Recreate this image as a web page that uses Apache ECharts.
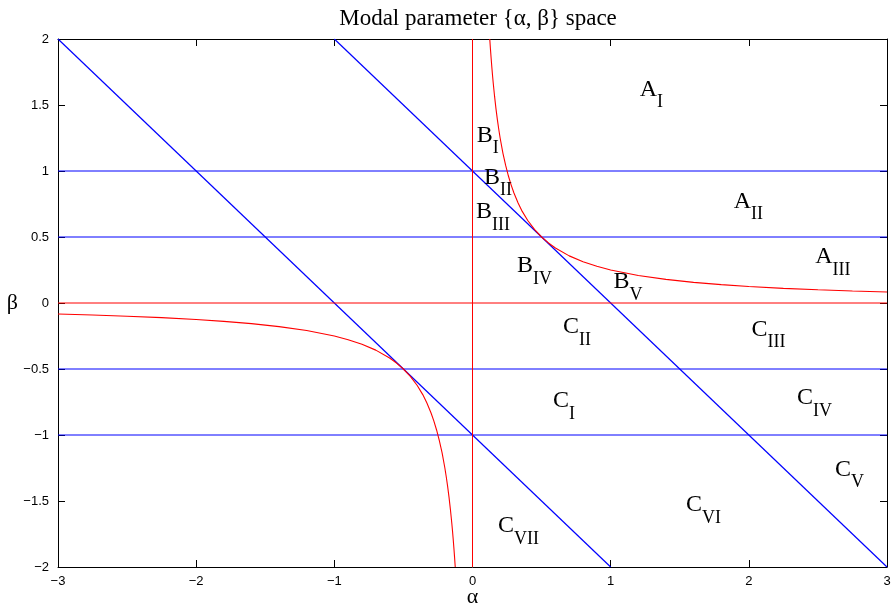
<!DOCTYPE html>
<html>
<head>
<meta charset="utf-8">
<script src="https://cdn.jsdelivr.net/npm/echarts@6/dist/echarts.min.js"></script>
<style>
html, body { margin: 0; padding: 0; background: #fff; }
#chart { width: 893px; height: 608px; }
</style>
</head>
<body>
<div id="chart"></div>
<script>
// Axis ranges and ticks
const xTicks = [-3, -2, -1, 0, 1, 2, 3];
const yTicks = [-2, -1.5, -1, -0.5, 0, 0.5, 1, 1.5, 2];

// Blue boundaries: horizontal beta levels and two diagonals
const horizontalBetas = [1, 0.5, -0.5, -1];
const diagonalUpperAlpha = [-1, 3];
const diagonalUpperBeta = [2, -2];
const diagonalLowerAlpha = [-3, 1];
const diagonalLowerBeta = [2, -2];

// Red boundaries: the alpha = 0 and beta = 0 axes
const redVerticalAlpha = [0, 0];
const redVerticalBeta = [-2, 2];
const redHorizontalAlpha = [-3, 3];
const redHorizontalBeta = [0, 0];

// Red curve, upper-right branch
const curveUpperAlpha = [0.125, 0.13, 0.135, 0.14, 0.145, 0.15, 0.16, 0.17, 0.18, 0.19, 0.2, 0.22, 0.24, 0.26, 0.28, 0.3, 0.33, 0.36, 0.4, 0.45, 0.5, 0.55, 0.6, 0.7, 0.8, 0.9, 1.0, 1.2, 1.4, 1.6, 1.8, 2.0, 2.25, 2.5, 2.75, 3.0];
const curveUpperBeta  = [2.0, 1.923, 1.852, 1.786, 1.724, 1.667, 1.563, 1.471, 1.389, 1.316, 1.25, 1.136, 1.042, 0.962, 0.893, 0.833, 0.758, 0.694, 0.625, 0.556, 0.5, 0.455, 0.417, 0.357, 0.313, 0.278, 0.25, 0.208, 0.179, 0.156, 0.139, 0.125, 0.111, 0.1, 0.091, 0.083];
// Red curve, lower-left branch
const curveLowerAlpha = [-3.0, -2.75, -2.5, -2.25, -2.0, -1.8, -1.6, -1.4, -1.2, -1.0, -0.9, -0.8, -0.7, -0.6, -0.55, -0.5, -0.45, -0.4, -0.36, -0.33, -0.3, -0.28, -0.26, -0.24, -0.22, -0.2, -0.19, -0.18, -0.17, -0.16, -0.15, -0.145, -0.14, -0.135, -0.13, -0.125];
const curveLowerBeta  = [-0.083, -0.091, -0.1, -0.111, -0.125, -0.139, -0.156, -0.179, -0.208, -0.25, -0.278, -0.313, -0.357, -0.417, -0.455, -0.5, -0.556, -0.625, -0.694, -0.758, -0.833, -0.893, -0.962, -1.042, -1.136, -1.25, -1.316, -1.389, -1.471, -1.563, -1.667, -1.724, -1.786, -1.852, -1.923, -2.0];

// Region labels: letter, roman subscript, anchor (top-left) in (alpha, beta)
const regionLetter = ['A', 'A', 'A', 'B', 'B', 'B', 'B', 'B', 'C', 'C', 'C', 'C', 'C', 'C', 'C'];
const regionSub    = ['I', 'II', 'III', 'I', 'II', 'III', 'IV', 'V', 'I', 'II', 'III', 'IV', 'V', 'VI', 'VII'];
const regionAlpha  = [1.21, 1.89, 2.48, 0.03, 0.083, 0.025, 0.322, 1.02, 0.583, 0.655, 2.02, 2.348, 2.624, 1.545, 0.185];
const regionBeta   = [1.71, 0.86, 0.44, 1.36, 1.04, 0.78, 0.37, 0.25, -0.65, -0.09, -0.11, -0.63, -1.17, -1.44, -1.60];

const BLUE = '#0000ff';
const RED = '#ff0000';
const SERIF = '"Liberation Serif", "Times New Roman", serif';
const SANS = '"Liberation Sans", Helvetica, Arial, sans-serif';

function zip(xs, ys) { return xs.map((x, i) => [x, ys[i]]); }
function lineSeries(data, color, width) {
  return {
    type: 'line', data: data, symbol: 'none', silent: true,
    lineStyle: { color: color, width: width || 1 }, animation: false, z: 3
  };
}
const fmt = v => String(v).replace('-', '\u2212');

const series = [];
horizontalBetas.forEach(b => series.push(lineSeries(zip(redHorizontalAlpha, [b, b]), BLUE)));
series.push(lineSeries(zip(diagonalUpperAlpha, diagonalUpperBeta), BLUE, 1.2));
series.push(lineSeries(zip(diagonalLowerAlpha, diagonalLowerBeta), BLUE, 1.2));
series.push(lineSeries(zip(redVerticalAlpha, redVerticalBeta), RED));
series.push(lineSeries(zip(redHorizontalAlpha, redHorizontalBeta), RED));
series.push(lineSeries(zip(curveUpperAlpha, curveUpperBeta), RED, 1.1));
series.push(lineSeries(zip(curveLowerAlpha, curveLowerBeta), RED, 1.1));

series.push({
  type: 'custom',
  silent: true,
  animation: false,
  z: 5,
  data: regionLetter.map((l, i) => [regionAlpha[i], regionBeta[i], i]),
  renderItem: function (params, api) {
    const i = api.value(2);
    const p = api.coord([api.value(0), api.value(1)]);
    return {
      type: 'text',
      x: p[0], y: p[1],
      style: {
        text: '{m|' + regionLetter[i] + '}{s|' + regionSub[i] + '}',
        align: 'left',
        verticalAlign: 'top',
        fill: '#000',
        rich: {
          m: { fontFamily: SERIF, fontSize: 24, lineHeight: 24, verticalAlign: 'top', fill: '#000' },
          s: { fontFamily: SERIF, fontSize: 18, lineHeight: 18, padding: [16, 0, 0, 0], verticalAlign: 'top', fill: '#000' }
        }
      }
    };
  }
});

const axisCommon = {
  type: 'value',
  axisLine: { show: true, onZero: false, lineStyle: { color: '#000', width: 1 } },
  axisTick: { show: true, inside: true, length: 7, lineStyle: { color: '#000', width: 1 } },
  splitLine: { show: false }
};

const chart = echarts.init(document.getElementById('chart'), null, { renderer: 'canvas' });
chart.setOption({
  backgroundColor: '#fff',
  animation: false,
  title: {
    text: 'Modal parameter {\u03b1, \u03b2} space',
    left: 473, top: 2, textAlign: 'center',
    textStyle: { fontFamily: SERIF, fontSize: 23, fontWeight: 'normal', color: '#000' }
  },
  grid: { left: 58, right: 6, top: 39, bottom: 41, containLabel: false, outerBoundsMode: 'none' },
  xAxis: [
    Object.assign({}, axisCommon, {
      min: xTicks[0], max: xTicks[xTicks.length - 1], interval: 1, position: 'bottom',
      name: '\u03b1', nameLocation: 'middle', nameGap: 19, nameMoveOverlap: false,
      nameTextStyle: { fontFamily: SERIF, fontSize: 22, color: '#000', verticalAlign: 'top' },
      axisLabel: { formatter: fmt, fontFamily: SANS, fontSize: 13, color: '#000', margin: 8 }
    }),
    Object.assign({}, axisCommon, {
      min: xTicks[0], max: xTicks[xTicks.length - 1], interval: 1, position: 'top',
      axisLabel: { show: false }
    })
  ],
  yAxis: [
    Object.assign({}, axisCommon, {
      min: yTicks[0], max: yTicks[yTicks.length - 1], interval: 0.5, position: 'left',
      name: '\u03b2', nameLocation: 'middle', nameGap: 40, nameRotate: 0, nameMoveOverlap: false,
      nameTextStyle: { fontFamily: SERIF, fontSize: 22, color: '#000' },
      axisLabel: { formatter: fmt, fontFamily: SANS, fontSize: 13, color: '#000', margin: 9 }
    }),
    Object.assign({}, axisCommon, {
      min: yTicks[0], max: yTicks[yTicks.length - 1], interval: 0.5, position: 'right',
      axisLabel: { show: false }
    })
  ],
  series: series
});
</script>
</body>
</html>
